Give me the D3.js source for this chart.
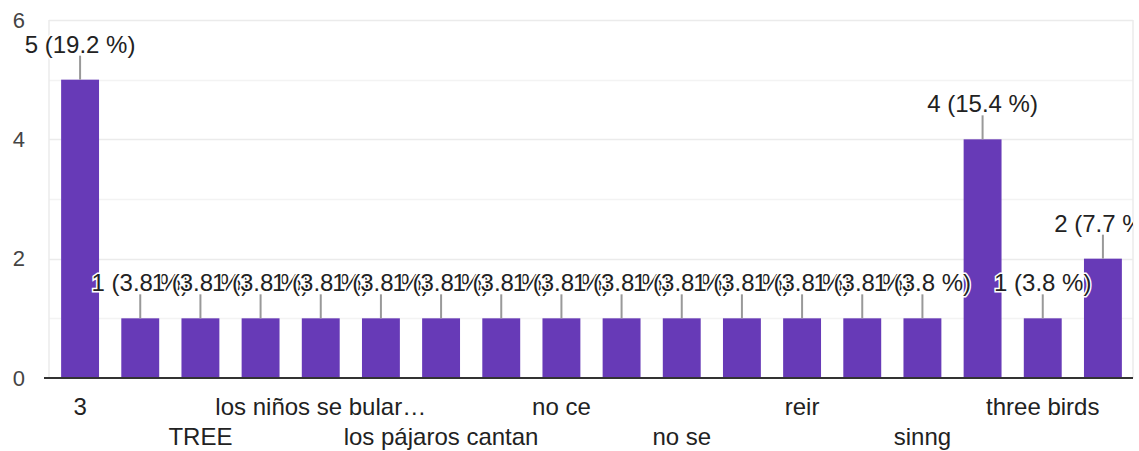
<!DOCTYPE html>
<html>
<head>
<meta charset="utf-8">
<script src="https://cdn.jsdelivr.net/npm/d3@7"></script>
<style>
  body { margin: 0; background: #fff; }
  svg { display: block; font-family: Arial, "Liberation Sans", sans-serif; }
</style>
</head>
<body>
<svg width="1139" height="451"></svg>
<script>
// answers, sorted like the form does it; odd ones are hidden on the axis
var categories = ["3", "", "TREE", "", "los niños se bular…", "", "los pájaros cantan", "",
                  "no ce", "", "no se", "", "reir", "", "sinng", "", "three birds", ""];
var counts     = [5, 1, 1, 1, 1, 1, 1, 1, 1, 1, 1, 1, 1, 1, 1, 4, 1, 2];
var yTicks     = [0, 2, 4, 6];
var gridValues = [1, 2, 3, 4, 5, 6];

var svg     = d3.select("svg");
var plotL   = 50, plotR = 1133;   // plot area edges
var plotT   = 20, plotB = 378;
var total   = d3.sum(counts);

var x = d3.scaleBand()
    .domain(d3.range(counts.length))
    .range([plotL, plotR])
    .paddingInner(0.37)
    .paddingOuter(0.185);

var y = d3.scaleLinear()
    .domain([0, 6])
    .range([plotB, plotT]);

// grid
svg.append("g")
  .selectAll("line")
  .data(gridValues)
  .enter().append("line")
    .attr("x1", plotL - 1).attr("x2", plotR)
    .attr("y1", function(d) { return Math.round(y(d)) + 0.5; })
    .attr("y2", function(d) { return Math.round(y(d)) + 0.5; })
    .attr("stroke", function(d) { return d % 2 ? "#f3f3f3" : "#ebebeb"; })
    .attr("stroke-width", 1.5);

// chart area side edges
svg.append("g")
  .selectAll("line")
  .data([plotL - 1, plotR])
  .enter().append("line")
    .attr("x1", function(d) { return d; }).attr("x2", function(d) { return d; })
    .attr("y1", plotT).attr("y2", plotB)
    .attr("stroke", "#ebebeb")
    .attr("stroke-width", 1.5);

// y tick labels
var yAxis = svg.append("g")
    .attr("transform", "translate(25,0)")
    .call(d3.axisLeft(y).tickValues(yTicks).tickSize(0).tickPadding(0).tickFormat(d3.format("d")));
yAxis.select(".domain").remove();
yAxis.selectAll("text")
    .attr("font-size", 22)
    .attr("font-family", "Arial, 'Liberation Sans', sans-serif")
    .attr("fill", "#444");

// bars
svg.append("g")
  .selectAll("rect")
  .data(counts)
  .enter().append("rect")
    .attr("x", function(d, i) { return x(i); })
    .attr("y", function(d) { return y(d); })
    .attr("width", x.bandwidth())
    .attr("height", function(d) { return y(0) - y(d); })
    .attr("fill", "#673ab7");

// baseline
svg.append("line")
    .attr("x1", plotL - 6).attr("x2", plotR)
    .attr("y1", y(0)).attr("y2", y(0))
    .attr("stroke", "#333")
    .attr("stroke-width", 2);

// x labels, two staggered rows
svg.append("g")
  .selectAll("text")
  .data(categories)
  .enter().append("text")
    .attr("x", function(d, i) { return x(i) + x.bandwidth() / 2; })
    .attr("y", function(d, i) { return (i / 2) % 2 ? 445 : 415; })
    .attr("text-anchor", "middle")
    .attr("font-size", 24)
    .attr("fill", "#222")
    .text(function(d) { return d; });

// annotations: stem + label with white halo, clipped at the right edge
svg.append("clipPath").attr("id", "clip")
  .append("rect").attr("x", 0).attr("y", 0).attr("width", plotR).attr("height", 451);

var ann = svg.append("g").attr("clip-path", "url(#clip)");
var fmt = d3.format(".1f");

counts.forEach(function(v, i) {
  var cx = x(i) + x.bandwidth() / 2;
  ann.append("line")
      .attr("x1", cx).attr("x2", cx)
      .attr("y1", y(v)).attr("y2", y(v) - 24)
      .attr("stroke", "#999")
      .attr("stroke-width", 2);
  ann.append("text")
      .attr("x", cx)
      .attr("y", y(v) - 27)
      .attr("text-anchor", "middle")
      .attr("font-size", 24)
      .attr("fill", "#222")
      .attr("stroke", "#fff")
      .attr("stroke-width", 3)
      .attr("paint-order", "stroke")
      .text(v + " (" + fmt(v / total * 100) + " %)");
});
</script>
</body>
</html>
